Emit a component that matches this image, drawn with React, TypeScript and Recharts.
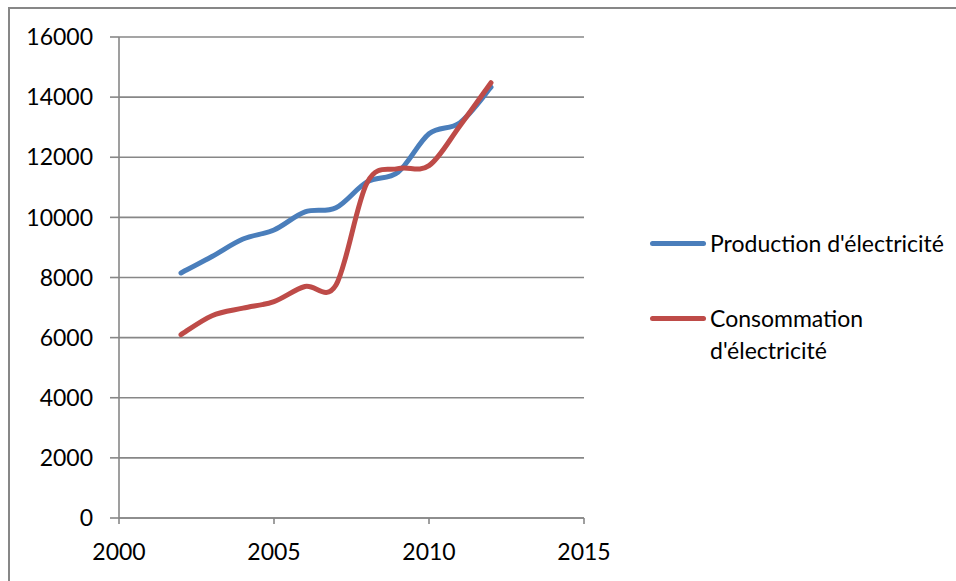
import React from 'react';
import { LineChart, Line, XAxis, YAxis, CartesianGrid } from 'recharts';

const years = [2002, 2003, 2004, 2005, 2006, 2007, 2008, 2009, 2010, 2011, 2012];
const production = [8150, 8700, 9280, 9580, 10180, 10320, 11180, 11500, 12780, 13150, 14330];
const consumption = [6100, 6730, 6980, 7200, 7700, 7750, 11150, 11620, 11720, 13050, 14480];

const xTicks = [2000, 2005, 2010, 2015];
const yTicks = [0, 2000, 4000, 6000, 8000, 10000, 12000, 14000, 16000];

const series = [
  { key: 'production', name: "Production d'électricité", color: '#4a7ebb' },
  { key: 'consumption', name: "Consommation d'électricité", color: '#be4b48' },
];

const rows = years.map((year, i) => ({
  year,
  production: production[i],
  consumption: consumption[i],
}));

const GRID = '#878787';
const FONT = 'Lato, sans-serif';

// Bezier smoothing with Catmull-Rom tangents (office-style "smoothed line")
function smoothCurve(context: any) {
  let xs: number[] = [];
  let ys: number[] = [];
  return {
    areaStart() {},
    areaEnd() {},
    lineStart() {
      xs = [];
      ys = [];
    },
    point(x: number, y: number) {
      xs.push(+x);
      ys.push(+y);
    },
    lineEnd() {
      const n = xs.length;
      if (!n) return;
      context.moveTo(xs[0], ys[0]);
      for (let i = 0; i < n - 1; i++) {
        const px = i > 0 ? xs[i - 1] : xs[i];
        const py = i > 0 ? ys[i - 1] : ys[i];
        const nx = i + 2 < n ? xs[i + 2] : xs[i + 1];
        const ny = i + 2 < n ? ys[i + 2] : ys[i + 1];
        context.bezierCurveTo(
          xs[i] + (xs[i + 1] - px) / 6,
          ys[i] + (ys[i + 1] - py) / 6,
          xs[i + 1] - (nx - xs[i]) / 6,
          ys[i + 1] - (ny - ys[i]) / 6,
          xs[i + 1],
          ys[i + 1]
        );
      }
    },
  };
}

function SideLegend() {
  return (
    <div style={{ position: 'absolute', left: 640, top: 218, fontFamily: FONT, fontSize: 23, color: '#000' }}>
      {series.map((s, i) => (
        <div key={s.key} style={{ display: 'flex', alignItems: 'flex-start', marginTop: i ? 43 : 0 }}>
          <div
            style={{
              width: 56,
              height: 5,
              borderRadius: 3,
              background: s.color,
              marginTop: 14,
              marginRight: 4,
              flex: 'none',
            }}
          />
          <div style={{ width: 236, lineHeight: '32px' }}>{s.name}</div>
        </div>
      ))}
    </div>
  );
}

export default function App() {
  return (
    <div
      style={{
        position: 'fixed',
        left: 8,
        top: 7,
        width: 946,
        height: 572,
        borderTop: `2px solid ${GRID}`,
        borderLeft: `2px solid ${GRID}`,
        background: '#fff',
      }}
    >
      <LineChart width={946} height={572} data={rows} margin={{ top: 28, right: 372, bottom: 23, left: 9 }}>
        <CartesianGrid vertical={false} stroke={GRID} strokeWidth={1.6} />
        <XAxis
          type="number"
          dataKey="year"
          domain={[2000, 2015]}
          ticks={xTicks}
          height={40}
          stroke={GRID}
          strokeWidth={1.6}
          tickSize={6}
          tickMargin={20}
          tick={{ fill: '#000', fontSize: 23, fontFamily: FONT }}
        />
        <YAxis
          domain={[0, 16000]}
          ticks={yTicks}
          width={100}
          stroke={GRID}
          strokeWidth={1.6}
          tickSize={9}
          tickMargin={17}
          tick={{ fill: '#000', fontSize: 23, fontFamily: FONT }}
        />
        {series.map((s) => (
          <Line
            key={s.key}
            type={smoothCurve as any}
            dataKey={s.key}
            name={s.name}
            stroke={s.color}
            strokeWidth={5}
            strokeLinecap="round"
            dot={false}
            activeDot={false}
            isAnimationActive={false}
          />
        ))}
      </LineChart>
      <SideLegend />
    </div>
  );
}
